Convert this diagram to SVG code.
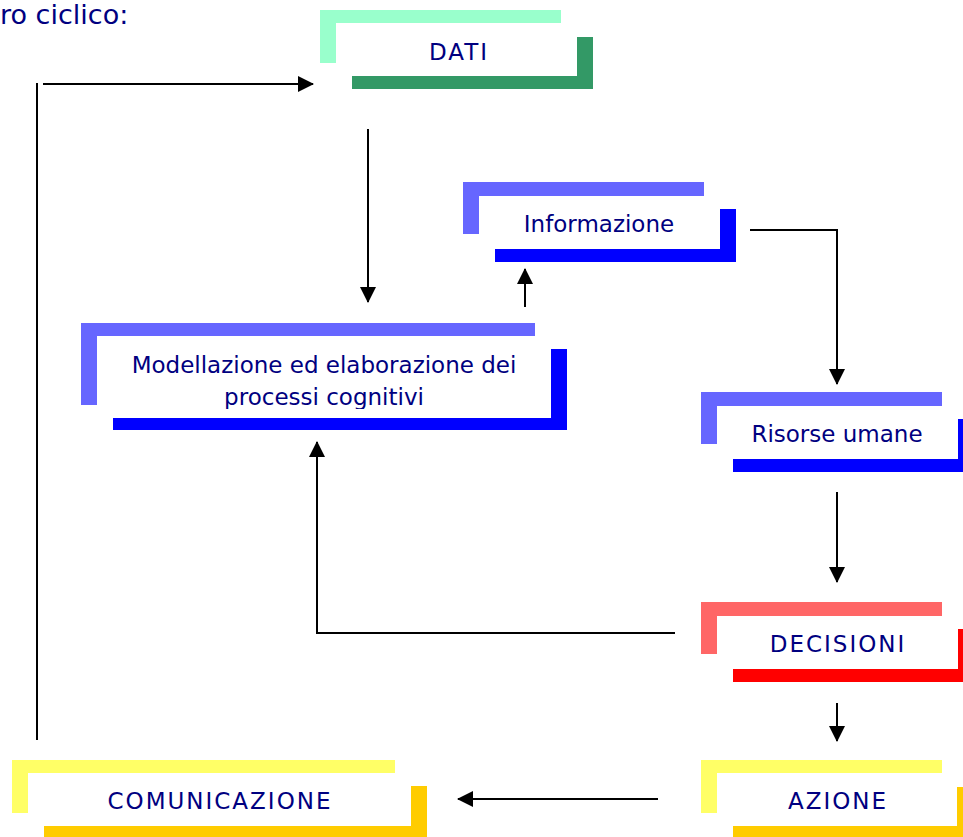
<svg xmlns="http://www.w3.org/2000/svg" width="963" height="837" viewBox="0 0 963 837">
  <style>
    .lbl { font-family: "DejaVu Sans", "Liberation Sans", sans-serif; font-size: 23px; fill: #000080; text-anchor: middle; }
    .caps { letter-spacing: 2px; }
    .title { font-family: "DejaVu Sans", "Liberation Sans", sans-serif; font-size: 27px; fill: #000080; }
    .edge { fill: none; stroke: #000; stroke-width: 2; }
  </style>
  <defs>
    <marker id="arrow" markerUnits="userSpaceOnUse" markerWidth="16" markerHeight="16" refX="15" refY="8" orient="auto">
      <path d="M0,0 L16,8 L0,16 z" fill="#000"/>
    </marker>
    <clipPath id="clipLine2">
      <rect x="90" y="380" width="470" height="29"/>
    </clipPath>
  </defs>

  <rect width="963" height="837" fill="#fff"/>

  <!-- heading fragment -->
  <text class="title" x="0" y="24">ro ciclico:</text>

  <!-- connectors -->
  <g id="connectors">
    <line class="edge" x1="37" y1="740" x2="37" y2="83"/>
    <line class="edge" x1="43" y1="84" x2="313" y2="84" marker-end="url(#arrow)"/>
    <line class="edge" x1="368" y1="129" x2="368" y2="302" marker-end="url(#arrow)"/>
    <line class="edge" x1="525" y1="307" x2="525" y2="269" marker-end="url(#arrow)"/>
    <polyline class="edge" points="750,230 837,230 837,384" marker-end="url(#arrow)"/>
    <line class="edge" x1="837" y1="492" x2="837" y2="582" marker-end="url(#arrow)"/>
    <polyline class="edge" points="675,633 317,633 317,442" marker-end="url(#arrow)"/>
    <line class="edge" x1="837" y1="703" x2="837" y2="741" marker-end="url(#arrow)"/>
    <line class="edge" x1="658" y1="799" x2="458" y2="799" marker-end="url(#arrow)"/>
  </g>

  <!-- DATI -->
  <g id="dati">
    <path d="M320,10 H561 V23 H336 V63 H320 Z" fill="#99FFCC"/>
    <path d="M577,37 H593 V89 H352 V76 H577 Z" fill="#339966"/>
    <text class="lbl caps" x="459" y="60">DATI</text>
  </g>

  <!-- Informazione -->
  <g id="informazione">
    <path d="M463,182 H704 V196 H479 V234 H463 Z" fill="#6666FF"/>
    <path d="M720,209 H736 V262 H495 V249 H720 Z" fill="#0000FF"/>
    <text class="lbl" x="599" y="232">Informazione</text>
  </g>

  <!-- Modellazione -->
  <g id="modellazione">
    <path d="M81,323 H535 V336 H97 V405 H81 Z" fill="#6666FF"/>
    <path d="M551,349 H567 V430 H113 V418 H551 Z" fill="#0000FF"/>
    <text class="lbl" x="324" y="373" font-size="22">Modellazione ed elaborazione dei</text>
    <text class="lbl" x="324" y="405" font-size="22" clip-path="url(#clipLine2)">processi cognitivi</text>
  </g>

  <!-- Risorse umane -->
  <g id="risorse">
    <path d="M701,392 H942 V406 H717 V444 H701 Z" fill="#6666FF"/>
    <path d="M958,419 H974 V472 H733 V459 H958 Z" fill="#0000FF"/>
    <text class="lbl" x="837" y="442">Risorse umane</text>
  </g>

  <!-- Decisioni -->
  <g id="decisioni">
    <path d="M701,602 H942 V616 H717 V654 H701 Z" fill="#FF6666"/>
    <path d="M958,629 H974 V682 H733 V669 H958 Z" fill="#FF0000"/>
    <text class="lbl caps" x="838" y="652" letter-spacing="2.5">DECISIONI</text>
  </g>

  <!-- Comunicazione -->
  <g id="comunicazione">
    <path d="M12,760 H395 V773 H28 V813 H12 Z" fill="#FFFF66"/>
    <path d="M411,786 H427 V840 H44 V826 H411 Z" fill="#FFCC00"/>
    <text class="lbl caps" x="220" y="809" letter-spacing="1.5">COMUNICAZIONE</text>
  </g>

  <!-- Azione -->
  <g id="azione">
    <path d="M701,760 H942 V773 H717 V813 H701 Z" fill="#FFFF66"/>
    <path d="M957,787 H973 V840 H733 V826 H957 Z" fill="#FFCC00"/>
    <text class="lbl caps" x="838" y="809">AZIONE</text>
  </g>
</svg>
